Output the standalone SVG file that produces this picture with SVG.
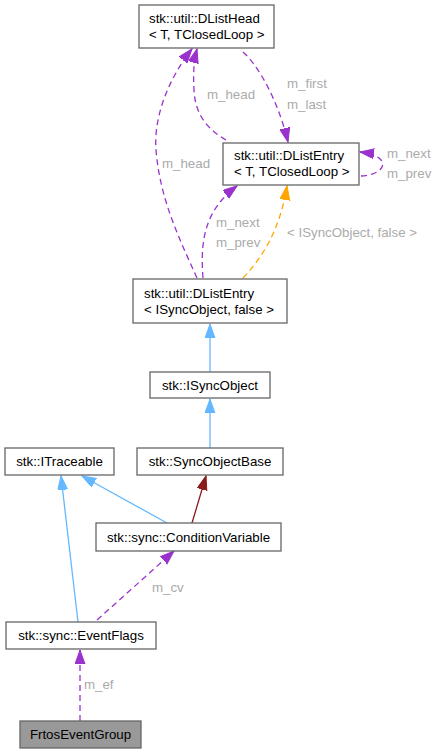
<svg xmlns="http://www.w3.org/2000/svg" width="440" height="753" viewBox="0 0 440 753">
<style>
.box{fill:#ffffff;stroke:#666666;stroke-width:1.3}
.cur{fill:#999999;stroke:#666666;stroke-width:1.3}
.t{font-family:"Liberation Sans",Arial,sans-serif;font-size:13.3px;fill:#000000}
.c{text-anchor:middle}
.lbl{font-family:"Liberation Sans",Arial,sans-serif;font-size:13.3px;fill:#ababab}
.e{fill:none;stroke-width:1.3}
.blue{stroke:#63b8ff}
.red{stroke:#8b1a1a}
.pur{stroke:#9a32cd;stroke-dasharray:6,4}
.org{stroke:#ffa500;stroke-dasharray:6,4}
</style>
<defs>
<marker id="ab" markerUnits="userSpaceOnUse" markerWidth="15" markerHeight="11" refX="14" refY="5" orient="auto"><path d="M0,0 L14,5 L0,10 z" fill="#63b8ff" stroke="#63b8ff"/></marker>
<marker id="ar" markerUnits="userSpaceOnUse" markerWidth="15" markerHeight="11" refX="14" refY="5" orient="auto"><path d="M0,0 L14,5 L0,10 z" fill="#8b1a1a" stroke="#8b1a1a"/></marker>
<marker id="ap" markerUnits="userSpaceOnUse" markerWidth="15" markerHeight="11" refX="14" refY="5" orient="auto"><path d="M0,0 L14,5 L0,10 z" fill="#9a32cd" stroke="#9a32cd"/></marker>
<marker id="ao" markerUnits="userSpaceOnUse" markerWidth="15" markerHeight="11" refX="14" refY="5" orient="auto"><path d="M0,0 L14,5 L0,10 z" fill="#ffa500" stroke="#ffa500"/></marker>
</defs>
<rect width="440" height="753" fill="#ffffff"/>
<g id="connectors">
<path class="e blue" d="M210,372 L210,324" marker-end="url(#ab)"/>
<path class="e blue" d="M210,448 L210,399" marker-end="url(#ab)"/>
<path class="e red" d="M192,523 L206,476" marker-end="url(#ar)"/>
<path class="e blue" d="M167,523 L82,476" marker-end="url(#ab)"/>
<path class="e blue" d="M78,622 L61,476" marker-end="url(#ab)"/>
<path class="e pur" d="M97,620 L174,551" marker-end="url(#ap)"/>
<path class="e pur" d="M80,721 L80,650" marker-end="url(#ap)"/>
<path class="e org" d="M243,278 C262,258 280,230 287,186" marker-end="url(#ao)"/>
<path class="e pur" d="M203,278 C200,240 205,210 237,186" marker-end="url(#ap)"/>
<path class="e pur" d="M197,278 C180,240 160,200 156,150 C153,110 175,70 192,49" marker-end="url(#ap)"/>
<path class="e pur" d="M226,140 C205,128 195,112 194,90 C193,72 194,60 197,49" marker-end="url(#ap)"/>
<path class="e pur" d="M243,52 C258,65 278,100 288,142" marker-end="url(#ap)"/>
<path class="e pur" d="M361,176 C380,175 388,165 379,158 C375,155 368,153 360,152" marker-end="url(#ap)"/>
<text class="lbl" x="287" y="88">m_first</text>
<text class="lbl" x="287" y="109">m_last</text>
<text class="lbl" x="207" y="99">m_head</text>
<text class="lbl" x="162" y="168">m_head</text>
<text class="lbl" x="387" y="158">m_next</text>
<text class="lbl" x="387" y="178">m_prev</text>
<text class="lbl" x="216" y="227">m_next</text>
<text class="lbl" x="216" y="247">m_prev</text>
<text class="lbl" x="287" y="237">&lt; ISyncObject, false &gt;</text>
<text class="lbl" x="152" y="592">m_cv</text>
<text class="lbl" x="84" y="689">m_ef</text>
</g>
<g id="node_dlisthead">
<rect class="box" x="139" y="5" width="135" height="43"/>
<text class="t" x="149" y="22.5">stk::util::DListHead</text>
<text class="t" x="149" y="38.5">&lt; T, TClosedLoop &gt;</text>
</g>
<g id="node_dlistentry_t">
<rect class="box" x="223" y="143" width="136" height="42"/>
<text class="t" x="234" y="159.5">stk::util::DListEntry</text>
<text class="t" x="234" y="175.5">&lt; T, TClosedLoop &gt;</text>
</g>
<g id="node_dlistentry_isync">
<rect class="box" x="133" y="279" width="154" height="44"/>
<text class="t" x="144" y="297.5">stk::util::DListEntry</text>
<text class="t" x="144" y="313.5">&lt; ISyncObject, false &gt;</text>
</g>
<g id="node_isyncobject">
<rect class="box" x="150" y="372" width="120" height="26"/>
<text class="t c" x="210" y="389.5">stk::ISyncObject</text>
</g>
<g id="node_itraceable">
<rect class="box" x="5" y="448" width="109" height="27"/>
<text class="t c" x="59.5" y="465.5">stk::ITraceable</text>
</g>
<g id="node_syncobjectbase">
<rect class="box" x="137" y="448" width="146" height="27"/>
<text class="t c" x="210" y="465.5">stk::SyncObjectBase</text>
</g>
<g id="node_conditionvariable">
<rect class="box" x="96" y="523" width="185" height="28"/>
<text class="t c" x="188.5" y="541.5">stk::sync::ConditionVariable</text>
</g>
<g id="node_eventflags">
<rect class="box" x="6" y="622" width="150" height="27"/>
<text class="t c" x="81" y="640">stk::sync::EventFlags</text>
</g>
<g id="node_frtoseventgroup">
<rect class="cur" x="20" y="721" width="121" height="27"/>
<text class="t c" x="80.5" y="739">FrtosEventGroup</text>
</g>
</svg>
